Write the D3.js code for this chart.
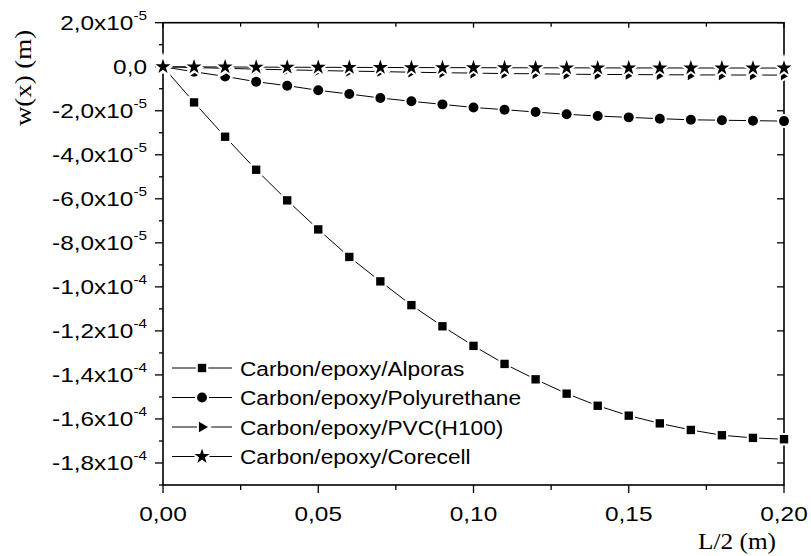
<!DOCTYPE html>
<html>
<head>
<meta charset="utf-8">
<script src="https://cdn.jsdelivr.net/npm/d3@7"></script>
<style>
  body { margin: 0; background: #fff; }
  svg { display: block; }
</style>
</head>
<body>
<svg id="chart" width="811" height="556"></svg>
<script>
// x positions (m)
const xs = [0, 0.01, 0.02, 0.03, 0.04, 0.05, 0.06, 0.07, 0.08, 0.09, 0.10,
            0.11, 0.12, 0.13, 0.14, 0.15, 0.16, 0.17, 0.18, 0.19, 0.20];

// deflections in units of 1e-5 m
const alporas = [0, -1.62, -3.18, -4.68, -6.07, -7.39, -8.64, -9.75, -10.83, -11.79, -12.68,
                 -13.5, -14.2, -14.85, -15.4, -15.85, -16.2, -16.5, -16.74, -16.86, -16.92];
const polyurethane = [0, -0.23, -0.44, -0.68, -0.86, -1.07, -1.24, -1.42, -1.57, -1.71, -1.85,
                      -1.95, -2.06, -2.16, -2.24, -2.30, -2.36, -2.41, -2.43, -2.45, -2.47];
const pvc = [0, -0.04, -0.07, -0.11, -0.14, -0.17, -0.2, -0.22, -0.25, -0.27, -0.29,
             -0.31, -0.32, -0.34, -0.35, -0.355, -0.365, -0.37, -0.375, -0.378, -0.38];
const corecell = [0, -0.006, -0.011, -0.017, -0.022, -0.026, -0.03, -0.034, -0.038, -0.041, -0.044,
                  -0.047, -0.049, -0.051, -0.053, -0.055, -0.056, -0.057, -0.058, -0.059, -0.06];

const seriesNames = ['Carbon/epoxy/Alporas', 'Carbon/epoxy/Polyurethane',
                     'Carbon/epoxy/PVC(H100)', 'Carbon/epoxy/Corecell'];

const xTicks = [0, 0.05, 0.10, 0.15, 0.20];
const xMinor = [0.025, 0.075, 0.125, 0.175];
const yTicks = [2, 0, -2, -4, -6, -8, -10, -12, -14, -16, -18];
const yMinor = [1, -1, -3, -5, -7, -9, -11, -13, -15, -17, -19];

const svg = d3.select('#chart');
const plotLeft = 163, plotRight = 784, plotTop = 22.7, plotBottom = 485;

const x = d3.scaleLinear().domain([0, 0.2]).range([plotLeft, plotRight]);
const y = d3.scaleLinear().domain([-19, 2]).range([plotBottom, plotTop]);

// tick label: mantissa x10^exp, decimal comma
function yLabel(v) {
  if (v === 0) return { main: '0,0', sup: '' };
  const val = v * 1e-5;
  const e = Math.floor(Math.log10(Math.abs(val)) + 1e-9);
  const m = val / Math.pow(10, e);
  return { main: m.toFixed(1).replace('.', ',') + 'x10', sup: String(e) };
}

// stretched text helper (the reference glyphs are wide)
function addText(px, py, sx, str, size, family, anchor, rotate) {
  const g = svg.append('g')
    .attr('transform', `translate(${px},${py})` + (rotate ? ` rotate(${rotate})` : '') + ` scale(${sx},1)`);
  return g.append('text')
    .attr('text-anchor', anchor)
    .style('font-family', family)
    .style('font-size', size + 'px')
    .attr('fill', '#000')
    .text(str);
}

const sans = '"Liberation Sans", Arial, sans-serif';
const serif = '"Liberation Serif", "Times New Roman", serif';

// frame
svg.append('rect')
  .attr('x', plotLeft).attr('y', plotTop)
  .attr('width', plotRight - plotLeft).attr('height', plotBottom - plotTop)
  .attr('fill', 'none').attr('stroke', '#000').attr('stroke-width', 1.6);

// bottom ticks (outward), top ticks (inward)
xTicks.forEach(t => {
  svg.append('line').attr('x1', x(t)).attr('x2', x(t)).attr('y1', plotBottom).attr('y2', plotBottom + 8)
    .attr('stroke', '#000').attr('stroke-width', 1.3);
  svg.append('line').attr('x1', x(t)).attr('x2', x(t)).attr('y1', plotTop).attr('y2', plotTop + 5)
    .attr('stroke', '#000').attr('stroke-width', 1.3);
  addText(x(t), 521, 1.22, t.toFixed(2).replace('.', ','), 20, sans, 'middle');
});
xMinor.forEach(t => {
  svg.append('line').attr('x1', x(t)).attr('x2', x(t)).attr('y1', plotBottom).attr('y2', plotBottom + 5)
    .attr('stroke', '#000').attr('stroke-width', 1.3);
  svg.append('line').attr('x1', x(t)).attr('x2', x(t)).attr('y1', plotTop).attr('y2', plotTop + 4)
    .attr('stroke', '#000').attr('stroke-width', 1.3);
});

// left ticks (outward) and right ticks (inward)
yTicks.forEach(t => {
  svg.append('line').attr('x1', plotLeft - 8).attr('x2', plotLeft).attr('y1', y(t)).attr('y2', y(t))
    .attr('stroke', '#000').attr('stroke-width', 1.3);
  svg.append('line').attr('x1', plotRight - 7).attr('x2', plotRight).attr('y1', y(t)).attr('y2', y(t))
    .attr('stroke', '#000').attr('stroke-width', 1.3);
  const lab = yLabel(t);
  const g = svg.append('g').attr('transform', `translate(147,${y(t) + 7}) scale(1.22,1)`);
  const txt = g.append('text').attr('text-anchor', 'end')
    .style('font-family', sans).style('font-size', '20px');
  txt.append('tspan').text(lab.main);
  if (lab.sup) {
    txt.append('tspan').attr('dy', -10).style('font-size', '12.5px').text(lab.sup);
  }
});
yMinor.forEach(t => {
  svg.append('line').attr('x1', plotLeft - 4).attr('x2', plotLeft).attr('y1', y(t)).attr('y2', y(t))
    .attr('stroke', '#000').attr('stroke-width', 1.3);
});

// axis titles
addText(776, 549, 1.1, 'L/2 (m)', 23, serif, 'end');
addText(31, 78, 1.12, 'w(x) (m)', 24, serif, 'middle', -90);

// markers
const symbols = [
  d3.symbol().type(d3.symbolSquare).size(70)(),
  d3.symbol().type(d3.symbolCircle).size(78)(),
  d3.symbol().type(d3.symbolTriangle).size(48)(),
  d3.symbol().type(d3.symbolStar).size(70)()
];
const rotations = [0, 0, 90, 0];
const allSeries = [alporas, polyurethane, pvc, corecell];

const line = d3.line().x(d => x(d[0])).y(d => y(d[1]));

const plot = svg.append('g');
allSeries.forEach((vals, i) => {
  const pts = xs.map((v, j) => [v, vals[j]]);
  plot.append('path').datum(pts)
    .attr('d', line)
    .attr('fill', 'none').attr('stroke', '#000').attr('stroke-width', 1);
});
allSeries.forEach((vals, i) => {
  plot.selectAll(null).data(xs.map((v, j) => [v, vals[j]]))
    .enter().append('path')
    .attr('d', symbols[i])
    .attr('transform', d => `translate(${x(d[0])},${y(d[1])}) rotate(${rotations[i]})`)
    .attr('fill', '#000')
    .attr('stroke', '#fff').attr('stroke-width', 4)
    .style('paint-order', 'stroke');
});

// legend
const legendY = [368, 397.5, 427, 456.5];
seriesNames.forEach((name, i) => {
  const ly = legendY[i];
  svg.append('line').attr('x1', 172).attr('x2', 232).attr('y1', ly).attr('y2', ly)
    .attr('stroke', '#000').attr('stroke-width', 1);
  svg.append('path').attr('d', symbols[i])
    .attr('transform', `translate(202,${ly}) rotate(${rotations[i]})`)
    .attr('fill', '#000').attr('stroke', '#fff').attr('stroke-width', 4)
    .style('paint-order', 'stroke');
  addText(240, ly + 7.5, 1.08, name, 21, sans, 'start');
});
</script>
</body>
</html>
